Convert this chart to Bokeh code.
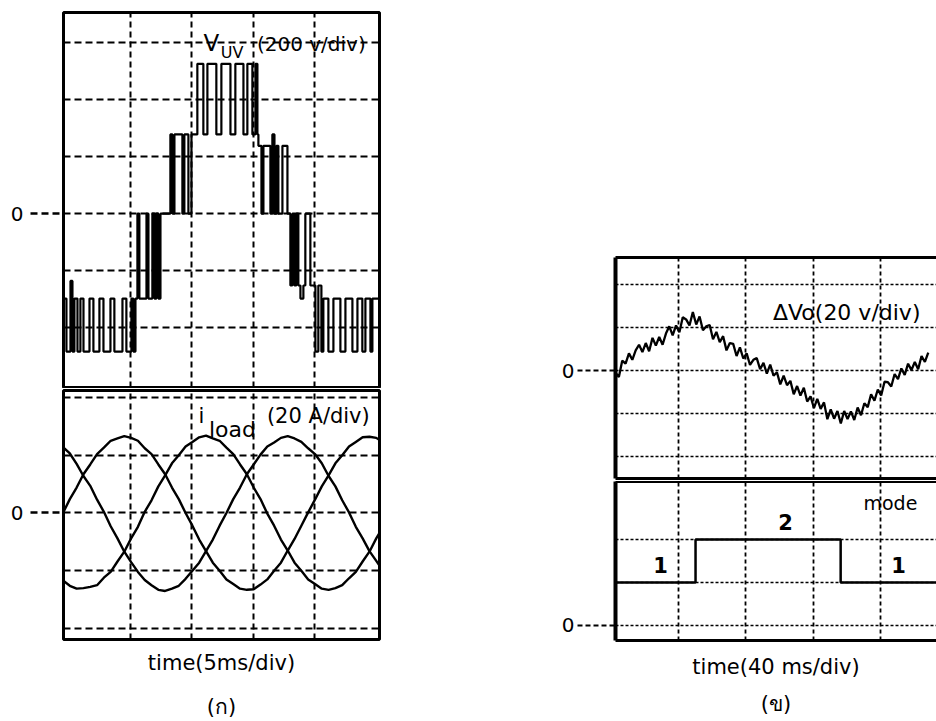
from bokeh.plotting import figure
from bokeh.models import Range1d, FixedTicker, Label, LinearAxis, Spacer
from bokeh.layouts import column, row
from bokeh.embed import file_html
from bokeh.resources import INLINE

FONT = "DejaVu Sans"

# ---------------- data: panel (a) ----------------
# V_uv (div units, 200 V/div), step transitions: time in ms, level held after the time
vuv_t = [-0.5, -0.22, 0.11, 0.27, 0.43, 0.68, 0.92, 1.17, 1.66, 1.98, 2.47, 2.80,
         3.37, 3.69, 4.35, 4.67, 5.08, 5.24, 5.41, 5.57, 5.73, 6.31, 6.47, 6.79,
         6.96, 7.12, 7.28, 7.45, 8.26, 8.43, 8.59, 9.24, 9.40, 9.73, 9.98, 10.46,
         10.95, 11.28, 12.01, 12.42, 13.16, 13.56, 14.22, 14.54, 14.95, 15.20, 15.36,
         15.44, 15.69, 15.85, 16.42, 16.58, 16.75, 16.91, 17.07, 17.40, 17.81, 18.05,
         18.21, 18.38, 18.54, 18.70, 18.87, 19.11, 19.27, 19.68, 20.09, 20.33, 20.58,
         20.74, 21.15, 21.56, 22.13, 22.54, 23.11, 23.52, 23.92, 24.17, 24.58, 24.74,
         25.40]
vuv_v = [-1.49, -2.42, -1.18, -2.42, -1.49, -2.42, -1.49, -2.42, -1.49, -2.42, -1.49, -2.42,
         -1.49, -2.42, -1.49, -2.42, -1.49, -2.42, -1.49, 0.0, -1.49, 0.0, -1.49, 0.0,
         -1.49, 0.0, -1.49, 0.0, 1.39, 0.0, 1.39, 0.0, 1.39, 0.0, 1.39, 2.63,
         1.39, 2.63, 1.39, 2.63, 1.39, 2.63, 1.39, 2.63, 1.39, 2.63, 1.39,
         1.19, 0.0, 1.19, 0.0, 1.39, 0.0, 1.19, 0.0, 1.19, 0.0, -1.26,
         0.0, -1.26, 0.0, -1.26, -1.49, -1.26, 0.0, -1.26, -2.42, -1.26, -2.42,
         -1.49, -2.42, -1.49, -2.42, -1.49, -2.42, -1.49, -2.42, -1.49, -2.42, -1.49,
         -1.49]

# i_load (div units, 20 A/div), three phases sampled every 20/36 ms
i_t = [round(-0.5 + k * 20 / 36, 3) for k in range(48)]
i_1 = [1.14, 1.03, .85, .64, .47, .23, .02, -.23, -.44, -.67, -.85, -1.02, -1.16, -1.25,
       -1.33, -1.35, -1.31, -1.26, -1.14, -1.0, -.86, -.66, -.46, -.22, .0, .24, .44, .67,
       .84, 1.01, 1.15, 1.22, 1.30, 1.33, 1.29, 1.23, 1.12, 1.02, .86, .64, .46, .22, .01,
       -.24, -.44, -.66, -.83, -1.0]
i_2 = [0.0, .24, .44, .67, .84, 1.02, 1.13, 1.25, 1.29, 1.33, 1.30, 1.25, 1.12, 1.02, .84,
       .67, .44, .24, .0, -.22, -.46, -.66, -.86, -1.0, -1.15, -1.23, -1.31, -1.33, -1.32,
       -1.24, -1.15, -1.0, -.86, -.65, -.45, -.22, .01, .23, .46, .65, .86, 1.0, 1.15, 1.23,
       1.31, 1.32, 1.30, 1.22]
i_3 = [-1.17, -1.26, -1.31, -1.30, -1.28, -1.25, -1.12, -1.02, -.84, -.67, -.44, -.24, .02,
       .22, .46, .65, .86, 1.0, 1.15, 1.23, 1.31, 1.34, 1.29, 1.25, 1.13, 1.02, .84, .67,
       .44, .24, -.01, -.22, -.46, -.65, -.86, -1.0, -1.15, -1.23, -1.31, -1.33, -1.30,
       -1.25, -1.13, -1.02, -.84, -.67, -.44, -.24]

a_xgrid = [5, 10, 15, 20]
a_ygrid_top = [-2, -1, 0, 1, 2, 3]
a_ygrid_bot = [-2, -1, 0, 1, 2]

# ---------------- data: panel (b) ----------------
dvo_t = [2.5 + 2 * k for k in range(94)]
dvo_v = [-.05, -.15, .23, .16, .40, .25, .47, .60, .43, .64, .45, .76, .58, .78, .60, .86,
         1.03, .82, 1.05, .89, 1.24, 1.19, 1.05, 1.36, 1.07, 1.26, .94, 1.03, 1.06, .73,
         .90, .66, .80, .47, .64, .62, .34, .54, .28, .40, .13, .25, .29, .03, .18, -.07,
         .14, -.12, -.04, -.32, -.12, -.34, -.24, -.55, -.36, -.58, -.40, -.72, -.60, -.87,
         -.66, -.89, -.74, -1.13, -.90, -1.12, -.94, -1.23, -.94, -1.13, -.95, -1.15, -.86,
         -1.04, -.76, -.85, -.55, -.70, -.44, -.58, -.26, -.27, -.37, -.08, -.20, .05, -.10,
         .16, .01, .20, .03, .34, .20, .42]

mode_t = [2.5, 50.1, 136.4, 195.0]
mode_v = [1, 2, 1, 1]

b_xgrid = [40, 80, 120, 160]
b_ygrid_top = [-2, -1, 0, 1, 2]
b_ygrid_bot = [0, 1, 2]


def make_fig(w, h, xr, yr, left, right, top, bottom):
    p = figure(width=w, height=h, x_range=Range1d(*xr), y_range=Range1d(*yr),
               output_backend="svg", toolbar_location=None,
               min_border_left=left, min_border_right=right,
               min_border_top=top, min_border_bottom=bottom)
    p.background_fill_color = "white"
    p.border_fill_color = "white"
    return p


def zero_axis(ax, tick_out, standoff, dash, width, size):
    ax.ticker = FixedTicker(ticks=[0])
    ax.major_tick_in = 0
    ax.major_tick_out = tick_out
    ax.major_tick_line_dash = dash
    ax.major_tick_line_width = width
    ax.major_tick_line_color = "black"
    ax.minor_tick_line_color = None
    ax.major_label_standoff = standoff
    ax.major_label_text_font = FONT
    ax.major_label_text_font_size = size
    ax.major_label_text_color = "black"


def hide_x(ax):
    ax.ticker = FixedTicker(ticks=[])
    ax.major_tick_out = 0
    ax.major_tick_in = 0
    ax.minor_tick_out = 0
    ax.minor_tick_in = 0
    ax.major_label_text_font_size = "0px"


def grids(p, xt, yt, xdash, ydash, xw, yw):
    p.xgrid.ticker = FixedTicker(ticks=xt)
    p.ygrid.ticker = FixedTicker(ticks=yt)
    p.xgrid.grid_line_color = "black"
    p.ygrid.grid_line_color = "black"
    p.xgrid.grid_line_dash = xdash
    p.ygrid.grid_line_dash = ydash
    p.xgrid.grid_line_width = xw
    p.ygrid.grid_line_width = yw
    p.xgrid.grid_line_alpha = 1.0
    p.ygrid.grid_line_alpha = 1.0


def label(p, x, y, text, size, style="normal", align="center"):
    p.add_layout(Label(x=x, y=y, text=text, text_font=FONT, text_font_size=size,
                       text_font_style=style, text_align=align, text_baseline="middle",
                       text_color="black"))


def axis_title(ax, text, standoff, size="21px"):
    ax.axis_label = text
    ax.axis_label_text_font = FONT
    ax.axis_label_text_font_size = size
    ax.axis_label_text_font_style = "normal"
    ax.axis_label_text_color = "black"
    ax.axis_label_standoff = standoff


def caption_axis(p, text, standoff):
    ax = LinearAxis()
    hide_x(ax)
    ax.axis_line_color = None
    axis_title(ax, text, standoff, "21px")
    p.add_layout(ax, "below")


# ---------------- panel (a) upper: V_uv ----------------
pA = make_fig(384, 388, (-0.46, 25.32), (-3.05, 3.53), 63, 5, 12, 1)
pA.outline_line_color = "black"
pA.outline_line_width = 3
pA.outline_line_alpha = 1
pA.xaxis.visible = False
zero_axis(pA.yaxis[0], 33, 7, "7 4", 2.5, "20px")
pA.yaxis.axis_line_color = None
grids(pA, a_xgrid, a_ygrid_top, "6 4", "7 4", 2, 2)
pA.step(vuv_t, vuv_v, mode="after", line_color="black", line_width=2.2)
label(pA, 11.6, 3.0, "V", "23px")
label(pA, 13.3, 2.82, "UV", "16px")
label(pA, 19.76, 2.98, "(200 v/div)", "20px")

# ---------------- panel (a) lower: i_load ----------------
pB = make_fig(384, 333, (-0.46, 25.32), (-2.19, 2.12), 63, 5, 2, 81)
pB.outline_line_color = "black"
pB.outline_line_width = 3
pB.outline_line_alpha = 1
hide_x(pB.xaxis[0])
pB.xaxis.axis_line_color = None
axis_title(pB.xaxis[0], "time(5ms/div)", 11)
caption_axis(pB, "(ก)", 17)
zero_axis(pB.yaxis[0], 33, 7, "7 4", 2.5, "20px")
pB.yaxis.axis_line_color = None
grids(pB, a_xgrid, a_ygrid_bot, "6 4", "7 4", 2, 2)
for ys in (i_1, i_2, i_3):
    pB.line(i_t, ys, line_color="black", line_width=2.4)
label(pB, 10.79, 1.67, "i", "21px")
label(pB, 13.32, 1.45, "load", "22px")
label(pB, 20.33, 1.67, "(20 A/div)", "21px")

# ---------------- panel (b) upper: dVo ----------------
pC = make_fig(552, 231, (2.5, 193.4), (-2.51, 2.63), 231, 0, 7, 3)
pC.outline_line_color = None
hide_x(pC.xaxis[0])
pC.xaxis.axis_line_width = 3
top_c = LinearAxis()
hide_x(top_c)
top_c.axis_line_width = 3
pC.add_layout(top_c, "above")
zero_axis(pC.yaxis[0], 38, 3, "5 3", 2.2, "20px")
pC.yaxis.axis_line_width = 4
grids(pC, b_xgrid, b_ygrid_top, "4 3", "3 2", 1.8, 1.5)
pC.line(dvo_t, dvo_v, line_color="black", line_width=2.3)
label(pC, 140, 1.35, "\u0394Vo(20 v/div)", "22px")

# ---------------- panel (b) lower: mode ----------------
pD = make_fig(552, 240, (2.5, 193.4), (-0.35, 3.35), 231, 0, 0, 81)
pD.outline_line_color = None
hide_x(pD.xaxis[0])
pD.xaxis.axis_line_width = 3
axis_title(pD.xaxis[0], "time(40 ms/div)", 14)
caption_axis(pD, "(ข)", 10)
top_d = LinearAxis()
hide_x(top_d)
top_d.axis_line_width = 3
pD.add_layout(top_d, "above")
zero_axis(pD.yaxis[0], 38, 3, "5 3", 2.2, "20px")
pD.yaxis.axis_line_width = 4
grids(pD, b_xgrid, b_ygrid_bot, "4 3", "3 2", 1.8, 1.5)
pD.step(mode_t, mode_v, mode="after", line_color="black", line_width=2.5)
label(pD, 29.3, 1.4, "1", "21px", "bold")
label(pD, 103.6, 2.4, "2", "21px", "bold")
label(pD, 166, 2.84, "mode", "19px")
label(pD, 170.9, 1.4, "1", "21px", "bold")

layout = row(column(pA, pB), column(Spacer(width=552, height=250), pC, pD))

open("out.html", "w").write(file_html(layout, INLINE, title="chart"))
